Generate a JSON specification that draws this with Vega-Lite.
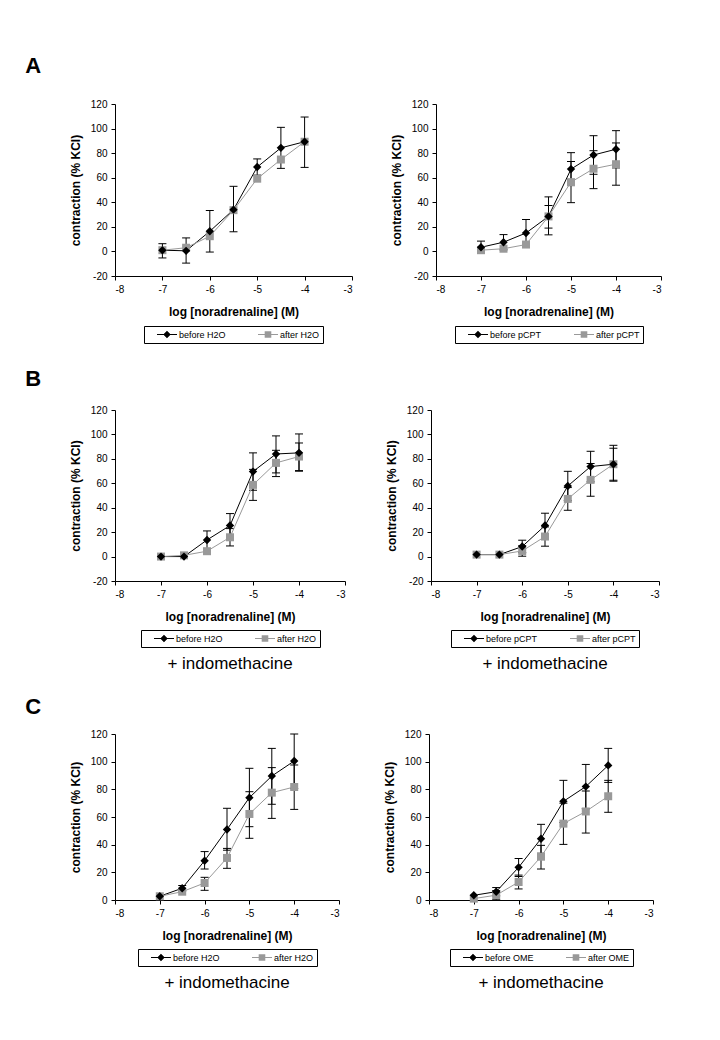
{
  "$schema": "https://vega.github.io/schema/vega-lite/v6.json",
  "background": "white",
  "padding": {"left": 25, "top": 55, "right": 5, "bottom": 5},
  "config": {
    "font": "Liberation Sans",
    "view": {"stroke": null},
    "axis": {"grid": false, "domainColor": "black", "tickColor": "black", "labelColor": "black", "titleColor": "black", "labelFontSize": 10, "titleFontSize": 12, "titleFontWeight": "bold", "tickSize": 4, "labelPadding": 4, "domainWidth": 1, "titlePadding": 8, "labelOverlap": false},
    "axisX": {"titlePadding": 12},
    "legend": {"orient": "bottom", "direction": "horizontal", "strokeColor": "black", "fillColor": "white", "padding": 3, "labelFontSize": 9, "labelColor": "black", "symbolSize": 900, "clipHeight": 11, "symbolStrokeWidth": 0, "columnPadding": 22, "offset": 8, "labelOffset": 2, "symbolOpacity": 1, "layout": {"bottom": {"anchor": "middle"}}}
  },
  "datasets": {
    "d": [
      {"p":"A1","g":"before","x":-7,"y":1,"lo":null,"hi":null},
      {"p":"A1","g":"before","x":-6.5,"y":0.5,"lo":-9.5,"hi":11},
      {"p":"A1","g":"before","x":-6,"y":16.4,"lo":-0.5,"hi":33.3},
      {"p":"A1","g":"before","x":-5.5,"y":34,"lo":16,"hi":53},
      {"p":"A1","g":"before","x":-5,"y":68.7,"lo":62.1,"hi":75.3},
      {"p":"A1","g":"before","x":-4.5,"y":84.3,"lo":67.6,"hi":101},
      {"p":"A1","g":"before","x":-4,"y":89.3,"lo":68.4,"hi":109.4},
      {"p":"A1","g":"after","x":-7,"y":1,"lo":-5.3,"hi":6.3},
      {"p":"A1","g":"after","x":-6.5,"y":3,"lo":null,"hi":null},
      {"p":"A1","g":"after","x":-6,"y":12.4,"lo":null,"hi":null},
      {"p":"A1","g":"after","x":-5.5,"y":33.6,"lo":null,"hi":null},
      {"p":"A1","g":"after","x":-5,"y":59.2,"lo":null,"hi":null},
      {"p":"A1","g":"after","x":-4.5,"y":74.8,"lo":null,"hi":null},
      {"p":"A1","g":"after","x":-4,"y":89.3,"lo":null,"hi":null},

      {"p":"A2","g":"before","x":-7,"y":3.4,"lo":-1.6,"hi":8.4},
      {"p":"A2","g":"before","x":-6.5,"y":7.5,"lo":1.3,"hi":13.7},
      {"p":"A2","g":"before","x":-6,"y":15,"lo":4,"hi":26},
      {"p":"A2","g":"before","x":-5.5,"y":28.5,"lo":13.5,"hi":44.4},
      {"p":"A2","g":"before","x":-5,"y":67,"lo":53.6,"hi":80.4},
      {"p":"A2","g":"before","x":-4.5,"y":78.5,"lo":62.8,"hi":94.2},
      {"p":"A2","g":"before","x":-4,"y":83.2,"lo":68,"hi":98.3},
      {"p":"A2","g":"after","x":-7,"y":1,"lo":null,"hi":null},
      {"p":"A2","g":"after","x":-6.5,"y":2.2,"lo":null,"hi":null},
      {"p":"A2","g":"after","x":-6,"y":5.6,"lo":null,"hi":null},
      {"p":"A2","g":"after","x":-5.5,"y":28.5,"lo":19,"hi":37.4},
      {"p":"A2","g":"after","x":-5,"y":56.4,"lo":39.7,"hi":73.2},
      {"p":"A2","g":"after","x":-4.5,"y":67.3,"lo":51.1,"hi":82},
      {"p":"A2","g":"after","x":-4,"y":71,"lo":53.9,"hi":88.3},

      {"p":"B1","g":"before","x":-7,"y":0,"lo":null,"hi":null},
      {"p":"B1","g":"before","x":-6.5,"y":0,"lo":null,"hi":null},
      {"p":"B1","g":"before","x":-6,"y":13.6,"lo":6.2,"hi":21},
      {"p":"B1","g":"before","x":-5.5,"y":25.4,"lo":15.6,"hi":35.2},
      {"p":"B1","g":"before","x":-5,"y":69.6,"lo":54.3,"hi":84.9},
      {"p":"B1","g":"before","x":-4.5,"y":84,"lo":68.5,"hi":98.8},
      {"p":"B1","g":"before","x":-4,"y":84.9,"lo":69.9,"hi":100.4},
      {"p":"B1","g":"after","x":-7,"y":0,"lo":null,"hi":null},
      {"p":"B1","g":"after","x":-6.5,"y":1,"lo":null,"hi":null},
      {"p":"B1","g":"after","x":-6,"y":4.4,"lo":null,"hi":null},
      {"p":"B1","g":"after","x":-5.5,"y":15.8,"lo":8.7,"hi":22.9},
      {"p":"B1","g":"after","x":-5,"y":58.7,"lo":46,"hi":71.4},
      {"p":"B1","g":"after","x":-4.5,"y":76.7,"lo":65.5,"hi":87},
      {"p":"B1","g":"after","x":-4,"y":81.9,"lo":70.4,"hi":93},

      {"p":"B2","g":"before","x":-7,"y":1.6,"lo":null,"hi":null},
      {"p":"B2","g":"before","x":-6.5,"y":1.6,"lo":null,"hi":null},
      {"p":"B2","g":"before","x":-6,"y":8.2,"lo":3.2,"hi":13.4},
      {"p":"B2","g":"before","x":-5.5,"y":25.4,"lo":15.4,"hi":35.5},
      {"p":"B2","g":"before","x":-5,"y":57.8,"lo":45.8,"hi":69.8},
      {"p":"B2","g":"before","x":-4.5,"y":73.7,"lo":61.2,"hi":86.2},
      {"p":"B2","g":"before","x":-4,"y":75.6,"lo":62.5,"hi":88.7},
      {"p":"B2","g":"after","x":-7,"y":1.6,"lo":null,"hi":null},
      {"p":"B2","g":"after","x":-6.5,"y":1.6,"lo":null,"hi":null},
      {"p":"B2","g":"after","x":-6,"y":4.6,"lo":0.3,"hi":8.9},
      {"p":"B2","g":"after","x":-5.5,"y":16.4,"lo":8.5,"hi":24.3},
      {"p":"B2","g":"after","x":-5,"y":47.2,"lo":37.9,"hi":56.5},
      {"p":"B2","g":"after","x":-4.5,"y":62.8,"lo":49.4,"hi":76.2},
      {"p":"B2","g":"after","x":-4,"y":75.6,"lo":61.7,"hi":91.1},

      {"p":"C1","g":"before","x":-7,"y":2.7,"lo":null,"hi":null},
      {"p":"C1","g":"before","x":-6.5,"y":8.5,"lo":6.5,"hi":10.5},
      {"p":"C1","g":"before","x":-6,"y":28.4,"lo":22.4,"hi":35},
      {"p":"C1","g":"before","x":-5.5,"y":51,"lo":36,"hi":66.3},
      {"p":"C1","g":"before","x":-5,"y":74,"lo":53,"hi":95.2},
      {"p":"C1","g":"before","x":-4.5,"y":89.6,"lo":69.2,"hi":109.6},
      {"p":"C1","g":"before","x":-4,"y":100.5,"lo":80.5,"hi":120},
      {"p":"C1","g":"after","x":-7,"y":2.7,"lo":null,"hi":null},
      {"p":"C1","g":"after","x":-6.5,"y":6,"lo":null,"hi":null},
      {"p":"C1","g":"after","x":-6,"y":12.3,"lo":7,"hi":16.4},
      {"p":"C1","g":"after","x":-5.5,"y":30.4,"lo":22.9,"hi":37.3},
      {"p":"C1","g":"after","x":-5,"y":62.2,"lo":44.6,"hi":78.3},
      {"p":"C1","g":"after","x":-4.5,"y":77.6,"lo":59,"hi":95.7},
      {"p":"C1","g":"after","x":-4,"y":81.7,"lo":65.5,"hi":97.6},

      {"p":"C2","g":"before","x":-7,"y":3.4,"lo":null,"hi":null},
      {"p":"C2","g":"before","x":-6.5,"y":6,"lo":3,"hi":9},
      {"p":"C2","g":"before","x":-6,"y":23.6,"lo":17,"hi":30},
      {"p":"C2","g":"before","x":-5.5,"y":44.3,"lo":33.8,"hi":54.7},
      {"p":"C2","g":"before","x":-5,"y":71.3,"lo":56,"hi":86.5},
      {"p":"C2","g":"before","x":-4.5,"y":82,"lo":66,"hi":98},
      {"p":"C2","g":"before","x":-4,"y":97.3,"lo":85,"hi":109.6},
      {"p":"C2","g":"after","x":-7,"y":1,"lo":null,"hi":null},
      {"p":"C2","g":"after","x":-6.5,"y":3.5,"lo":0.2,"hi":6.8},
      {"p":"C2","g":"after","x":-6,"y":13,"lo":8,"hi":18},
      {"p":"C2","g":"after","x":-5.5,"y":31.3,"lo":22.4,"hi":39.5},
      {"p":"C2","g":"after","x":-5,"y":55.2,"lo":40.2,"hi":70},
      {"p":"C2","g":"after","x":-4.5,"y":64,"lo":48.4,"hi":78.8},
      {"p":"C2","g":"after","x":-4,"y":75,"lo":63.4,"hi":86.5}
    ]
  },
  "vconcat": [
    {
      "title": {"text": "A", "anchor": "start", "fontSize": 22, "fontWeight": "bold", "color": "black", "dx": -44, "offset": 21},
      "spacing": 37,
      "resolve": {"scale": {"x": "independent", "y": "independent", "color": "independent", "shape": "independent"}, "axis": {"x": "independent", "y": "independent"}, "legend": {"color": "independent", "shape": "independent"}},
      "hconcat": [
        {
          "width": 237, "height": 172,
          "data": {"name": "d"},
          "transform": [{"filter": "datum.p == 'A1'"}],
          "encoding": {"x": {"field": "x", "type": "quantitative", "scale": {"domain": [-8, -3], "nice": false, "zero": false}, "axis": {"values": [-8, -7, -6, -5, -4, -3], "labelExpr": "'' + datum.value"}, "title": "log [noradrenaline] (M)"}},
          "layer": [
            {"transform": [{"filter": "isValid(datum.lo)"}], "mark": {"type": "rule", "color": "black", "strokeWidth": 1}, "encoding": {"y": {"field": "lo", "type": "quantitative", "scale": {"domain": [-20, 120], "nice": false, "zero": false}, "axis": {"values": [-20, 0, 20, 40, 60, 80, 100, 120], "labelExpr": "'' + datum.value"}, "title": "contraction (% KCl)"}, "y2": {"field": "hi"}}},
            {"transform": [{"filter": "isValid(datum.lo)"}], "mark": {"type": "tick", "orient": "horizontal", "color": "black", "size": 8, "thickness": 1, "opacity": 1}, "encoding": {"y": {"field": "lo", "type": "quantitative", "scale": {"domain": [-20, 120], "nice": false, "zero": false}, "axis": {"values": [-20, 0, 20, 40, 60, 80, 100, 120], "labelExpr": "'' + datum.value"}, "title": "contraction (% KCl)"}}},
            {"transform": [{"filter": "isValid(datum.hi)"}], "mark": {"type": "tick", "orient": "horizontal", "color": "black", "size": 8, "thickness": 1, "opacity": 1}, "encoding": {"y": {"field": "hi", "type": "quantitative", "scale": {"domain": [-20, 120], "nice": false, "zero": false}, "axis": {"values": [-20, 0, 20, 40, 60, 80, 100, 120], "labelExpr": "'' + datum.value"}, "title": "contraction (% KCl)"}}},
            {"mark": {"type": "line", "strokeWidth": 1}, "encoding": {"y": {"field": "y", "type": "quantitative", "scale": {"domain": [-20, 120], "nice": false, "zero": false}, "axis": {"values": [-20, 0, 20, 40, 60, 80, 100, 120], "labelExpr": "'' + datum.value"}, "title": "contraction (% KCl)"}, "stroke": {"field": "g", "type": "nominal", "scale": {"domain": ["before", "after"], "range": ["#000000", "#999999"]}, "legend": null}}},
            {"transform": [{"filter": "datum.g == 'after'"}], "mark": {"type": "point", "shape": "square", "filled": true, "color": "#999999", "size": 64, "opacity": 1}, "encoding": {"y": {"field": "y", "type": "quantitative", "scale": {"domain": [-20, 120], "nice": false, "zero": false}, "axis": {"values": [-20, 0, 20, 40, 60, 80, 100, 120], "labelExpr": "'' + datum.value"}, "title": "contraction (% KCl)"}}},
            {"transform": [{"filter": "datum.g == 'before'"}], "mark": {"type": "point", "shape": "diamond", "filled": true, "color": "#000000", "size": 70, "opacity": 1}, "encoding": {"y": {"field": "y", "type": "quantitative", "scale": {"domain": [-20, 120], "nice": false, "zero": false}, "axis": {"values": [-20, 0, 20, 40, 60, 80, 100, 120], "labelExpr": "'' + datum.value"}, "title": "contraction (% KCl)"}}},
            {"transform": [{"filter": "datum.y > 1000"}], "mark": {"type": "point", "filled": true, "opacity": 1}, "encoding": {"y": {"field": "y", "type": "quantitative", "scale": {"domain": [-20, 120], "nice": false, "zero": false}, "axis": {"values": [-20, 0, 20, 40, 60, 80, 100, 120], "labelExpr": "'' + datum.value"}, "title": "contraction (% KCl)"}, "color": {"field": "g", "type": "nominal", "scale": {"domain": ["before", "after"], "range": ["#000000", "#999999"]}, "legend": {"title": null, "offset": 9, "labelExpr": "datum.label == 'before' ? 'before H2O' : 'after H2O'"}}, "shape": {"field": "g", "type": "nominal", "scale": {"domain": ["before", "after"], "range": ["M-0.333,-0.035H1V0.035H-0.333ZM0.333,-0.25L0.583,0L0.333,0.25L0.083,0Z", "M-0.333,-0.035H1V0.035H-0.333ZM0.113,-0.22H0.553V0.22H0.113Z"]}, "legend": {"title": null, "offset": 9, "labelExpr": "datum.label == 'before' ? 'before H2O' : 'after H2O'"}}}}
          ]
        },
        {
          "width": 225, "height": 172,
          "data": {"name": "d"},
          "transform": [{"filter": "datum.p == 'A2'"}],
          "encoding": {"x": {"field": "x", "type": "quantitative", "scale": {"domain": [-8, -3], "nice": false, "zero": false}, "axis": {"values": [-8, -7, -6, -5, -4, -3], "labelExpr": "'' + datum.value"}, "title": "log [noradrenaline] (M)"}},
          "layer": [
            {"transform": [{"filter": "isValid(datum.lo)"}], "mark": {"type": "rule", "color": "black", "strokeWidth": 1}, "encoding": {"y": {"field": "lo", "type": "quantitative", "scale": {"domain": [-20, 120], "nice": false, "zero": false}, "axis": {"values": [-20, 0, 20, 40, 60, 80, 100, 120], "labelExpr": "'' + datum.value"}, "title": "contraction (% KCl)"}, "y2": {"field": "hi"}}},
            {"transform": [{"filter": "isValid(datum.lo)"}], "mark": {"type": "tick", "orient": "horizontal", "color": "black", "size": 8, "thickness": 1, "opacity": 1}, "encoding": {"y": {"field": "lo", "type": "quantitative", "scale": {"domain": [-20, 120], "nice": false, "zero": false}, "axis": {"values": [-20, 0, 20, 40, 60, 80, 100, 120], "labelExpr": "'' + datum.value"}, "title": "contraction (% KCl)"}}},
            {"transform": [{"filter": "isValid(datum.hi)"}], "mark": {"type": "tick", "orient": "horizontal", "color": "black", "size": 8, "thickness": 1, "opacity": 1}, "encoding": {"y": {"field": "hi", "type": "quantitative", "scale": {"domain": [-20, 120], "nice": false, "zero": false}, "axis": {"values": [-20, 0, 20, 40, 60, 80, 100, 120], "labelExpr": "'' + datum.value"}, "title": "contraction (% KCl)"}}},
            {"mark": {"type": "line", "strokeWidth": 1}, "encoding": {"y": {"field": "y", "type": "quantitative", "scale": {"domain": [-20, 120], "nice": false, "zero": false}, "axis": {"values": [-20, 0, 20, 40, 60, 80, 100, 120], "labelExpr": "'' + datum.value"}, "title": "contraction (% KCl)"}, "stroke": {"field": "g", "type": "nominal", "scale": {"domain": ["before", "after"], "range": ["#000000", "#999999"]}, "legend": null}}},
            {"transform": [{"filter": "datum.g == 'after'"}], "mark": {"type": "point", "shape": "square", "filled": true, "color": "#999999", "size": 64, "opacity": 1}, "encoding": {"y": {"field": "y", "type": "quantitative", "scale": {"domain": [-20, 120], "nice": false, "zero": false}, "axis": {"values": [-20, 0, 20, 40, 60, 80, 100, 120], "labelExpr": "'' + datum.value"}, "title": "contraction (% KCl)"}}},
            {"transform": [{"filter": "datum.g == 'before'"}], "mark": {"type": "point", "shape": "diamond", "filled": true, "color": "#000000", "size": 70, "opacity": 1}, "encoding": {"y": {"field": "y", "type": "quantitative", "scale": {"domain": [-20, 120], "nice": false, "zero": false}, "axis": {"values": [-20, 0, 20, 40, 60, 80, 100, 120], "labelExpr": "'' + datum.value"}, "title": "contraction (% KCl)"}}},
            {"transform": [{"filter": "datum.y > 1000"}], "mark": {"type": "point", "filled": true, "opacity": 1}, "encoding": {"y": {"field": "y", "type": "quantitative", "scale": {"domain": [-20, 120], "nice": false, "zero": false}, "axis": {"values": [-20, 0, 20, 40, 60, 80, 100, 120], "labelExpr": "'' + datum.value"}, "title": "contraction (% KCl)"}, "color": {"field": "g", "type": "nominal", "scale": {"domain": ["before", "after"], "range": ["#000000", "#999999"]}, "legend": {"title": null, "offset": 9, "labelExpr": "datum.label == 'before' ? 'before pCPT' : 'after pCPT'"}}, "shape": {"field": "g", "type": "nominal", "scale": {"domain": ["before", "after"], "range": ["M-0.333,-0.035H1V0.035H-0.333ZM0.333,-0.25L0.583,0L0.333,0.25L0.083,0Z", "M-0.333,-0.035H1V0.035H-0.333ZM0.113,-0.22H0.553V0.22H0.113Z"]}, "legend": {"title": null, "offset": 9, "labelExpr": "datum.label == 'before' ? 'before pCPT' : 'after pCPT'"}}}}
          ]
        }
      ]
    },
    {
      "title": {"text": "B", "anchor": "start", "fontSize": 22, "fontWeight": "bold", "color": "black", "dx": -44, "offset": 14},
      "spacing": 39,
      "resolve": {"scale": {"x": "independent", "y": "independent", "color": "independent", "shape": "independent"}, "axis": {"x": "independent", "y": "independent"}, "legend": {"color": "independent", "shape": "independent"}},
      "hconcat": [
        {
          "width": 230, "height": 171,
          "title": {"text": "+ indomethacine", "orient": "bottom", "fontSize": 17, "fontWeight": "normal", "color": "black", "anchor": "middle", "offset": 8},
          "data": {"name": "d"},
          "transform": [{"filter": "datum.p == 'B1'"}],
          "encoding": {"x": {"field": "x", "type": "quantitative", "scale": {"domain": [-8, -3], "nice": false, "zero": false}, "axis": {"values": [-8, -7, -6, -5, -4, -3], "labelExpr": "'' + datum.value"}, "title": "log [noradrenaline] (M)"}},
          "layer": [
            {"transform": [{"filter": "isValid(datum.lo)"}], "mark": {"type": "rule", "color": "black", "strokeWidth": 1}, "encoding": {"y": {"field": "lo", "type": "quantitative", "scale": {"domain": [-20, 120], "nice": false, "zero": false}, "axis": {"values": [-20, 0, 20, 40, 60, 80, 100, 120], "labelExpr": "'' + datum.value"}, "title": "contraction (% KCl)"}, "y2": {"field": "hi"}}},
            {"transform": [{"filter": "isValid(datum.lo)"}], "mark": {"type": "tick", "orient": "horizontal", "color": "black", "size": 8, "thickness": 1, "opacity": 1}, "encoding": {"y": {"field": "lo", "type": "quantitative", "scale": {"domain": [-20, 120], "nice": false, "zero": false}, "axis": {"values": [-20, 0, 20, 40, 60, 80, 100, 120], "labelExpr": "'' + datum.value"}, "title": "contraction (% KCl)"}}},
            {"transform": [{"filter": "isValid(datum.hi)"}], "mark": {"type": "tick", "orient": "horizontal", "color": "black", "size": 8, "thickness": 1, "opacity": 1}, "encoding": {"y": {"field": "hi", "type": "quantitative", "scale": {"domain": [-20, 120], "nice": false, "zero": false}, "axis": {"values": [-20, 0, 20, 40, 60, 80, 100, 120], "labelExpr": "'' + datum.value"}, "title": "contraction (% KCl)"}}},
            {"mark": {"type": "line", "strokeWidth": 1}, "encoding": {"y": {"field": "y", "type": "quantitative", "scale": {"domain": [-20, 120], "nice": false, "zero": false}, "axis": {"values": [-20, 0, 20, 40, 60, 80, 100, 120], "labelExpr": "'' + datum.value"}, "title": "contraction (% KCl)"}, "stroke": {"field": "g", "type": "nominal", "scale": {"domain": ["before", "after"], "range": ["#000000", "#999999"]}, "legend": null}}},
            {"transform": [{"filter": "datum.g == 'after'"}], "mark": {"type": "point", "shape": "square", "filled": true, "color": "#999999", "size": 64, "opacity": 1}, "encoding": {"y": {"field": "y", "type": "quantitative", "scale": {"domain": [-20, 120], "nice": false, "zero": false}, "axis": {"values": [-20, 0, 20, 40, 60, 80, 100, 120], "labelExpr": "'' + datum.value"}, "title": "contraction (% KCl)"}}},
            {"transform": [{"filter": "datum.g == 'before'"}], "mark": {"type": "point", "shape": "diamond", "filled": true, "color": "#000000", "size": 70, "opacity": 1}, "encoding": {"y": {"field": "y", "type": "quantitative", "scale": {"domain": [-20, 120], "nice": false, "zero": false}, "axis": {"values": [-20, 0, 20, 40, 60, 80, 100, 120], "labelExpr": "'' + datum.value"}, "title": "contraction (% KCl)"}}},
            {"transform": [{"filter": "datum.y > 1000"}], "mark": {"type": "point", "filled": true, "opacity": 1}, "encoding": {"y": {"field": "y", "type": "quantitative", "scale": {"domain": [-20, 120], "nice": false, "zero": false}, "axis": {"values": [-20, 0, 20, 40, 60, 80, 100, 120], "labelExpr": "'' + datum.value"}, "title": "contraction (% KCl)"}, "color": {"field": "g", "type": "nominal", "scale": {"domain": ["before", "after"], "range": ["#000000", "#999999"]}, "legend": {"title": null, "labelExpr": "datum.label == 'before' ? 'before H2O' : 'after H2O'"}}, "shape": {"field": "g", "type": "nominal", "scale": {"domain": ["before", "after"], "range": ["M-0.333,-0.035H1V0.035H-0.333ZM0.333,-0.25L0.583,0L0.333,0.25L0.083,0Z", "M-0.333,-0.035H1V0.035H-0.333ZM0.113,-0.22H0.553V0.22H0.113Z"]}, "legend": {"title": null, "labelExpr": "datum.label == 'before' ? 'before H2O' : 'after H2O'"}}}}
          ]
        },
        {
          "width": 228, "height": 171,
          "title": {"text": "+ indomethacine", "orient": "bottom", "fontSize": 17, "fontWeight": "normal", "color": "black", "anchor": "middle", "offset": 8},
          "data": {"name": "d"},
          "transform": [{"filter": "datum.p == 'B2'"}],
          "encoding": {"x": {"field": "x", "type": "quantitative", "scale": {"domain": [-8, -3], "nice": false, "zero": false}, "axis": {"values": [-8, -7, -6, -5, -4, -3], "labelExpr": "'' + datum.value"}, "title": "log [noradrenaline] (M)"}},
          "layer": [
            {"transform": [{"filter": "isValid(datum.lo)"}], "mark": {"type": "rule", "color": "black", "strokeWidth": 1}, "encoding": {"y": {"field": "lo", "type": "quantitative", "scale": {"domain": [-20, 120], "nice": false, "zero": false}, "axis": {"values": [-20, 0, 20, 40, 60, 80, 100, 120], "labelExpr": "'' + datum.value"}, "title": "contraction (% KCl)"}, "y2": {"field": "hi"}}},
            {"transform": [{"filter": "isValid(datum.lo)"}], "mark": {"type": "tick", "orient": "horizontal", "color": "black", "size": 8, "thickness": 1, "opacity": 1}, "encoding": {"y": {"field": "lo", "type": "quantitative", "scale": {"domain": [-20, 120], "nice": false, "zero": false}, "axis": {"values": [-20, 0, 20, 40, 60, 80, 100, 120], "labelExpr": "'' + datum.value"}, "title": "contraction (% KCl)"}}},
            {"transform": [{"filter": "isValid(datum.hi)"}], "mark": {"type": "tick", "orient": "horizontal", "color": "black", "size": 8, "thickness": 1, "opacity": 1}, "encoding": {"y": {"field": "hi", "type": "quantitative", "scale": {"domain": [-20, 120], "nice": false, "zero": false}, "axis": {"values": [-20, 0, 20, 40, 60, 80, 100, 120], "labelExpr": "'' + datum.value"}, "title": "contraction (% KCl)"}}},
            {"mark": {"type": "line", "strokeWidth": 1}, "encoding": {"y": {"field": "y", "type": "quantitative", "scale": {"domain": [-20, 120], "nice": false, "zero": false}, "axis": {"values": [-20, 0, 20, 40, 60, 80, 100, 120], "labelExpr": "'' + datum.value"}, "title": "contraction (% KCl)"}, "stroke": {"field": "g", "type": "nominal", "scale": {"domain": ["before", "after"], "range": ["#000000", "#999999"]}, "legend": null}}},
            {"transform": [{"filter": "datum.g == 'after'"}], "mark": {"type": "point", "shape": "square", "filled": true, "color": "#999999", "size": 64, "opacity": 1}, "encoding": {"y": {"field": "y", "type": "quantitative", "scale": {"domain": [-20, 120], "nice": false, "zero": false}, "axis": {"values": [-20, 0, 20, 40, 60, 80, 100, 120], "labelExpr": "'' + datum.value"}, "title": "contraction (% KCl)"}}},
            {"transform": [{"filter": "datum.g == 'before'"}], "mark": {"type": "point", "shape": "diamond", "filled": true, "color": "#000000", "size": 70, "opacity": 1}, "encoding": {"y": {"field": "y", "type": "quantitative", "scale": {"domain": [-20, 120], "nice": false, "zero": false}, "axis": {"values": [-20, 0, 20, 40, 60, 80, 100, 120], "labelExpr": "'' + datum.value"}, "title": "contraction (% KCl)"}}},
            {"transform": [{"filter": "datum.y > 1000"}], "mark": {"type": "point", "filled": true, "opacity": 1}, "encoding": {"y": {"field": "y", "type": "quantitative", "scale": {"domain": [-20, 120], "nice": false, "zero": false}, "axis": {"values": [-20, 0, 20, 40, 60, 80, 100, 120], "labelExpr": "'' + datum.value"}, "title": "contraction (% KCl)"}, "color": {"field": "g", "type": "nominal", "scale": {"domain": ["before", "after"], "range": ["#000000", "#999999"]}, "legend": {"title": null, "labelExpr": "datum.label == 'before' ? 'before pCPT' : 'after pCPT'"}}, "shape": {"field": "g", "type": "nominal", "scale": {"domain": ["before", "after"], "range": ["M-0.333,-0.035H1V0.035H-0.333ZM0.333,-0.25L0.583,0L0.333,0.25L0.083,0Z", "M-0.333,-0.035H1V0.035H-0.333ZM0.113,-0.22H0.553V0.22H0.113Z"]}, "legend": {"title": null, "labelExpr": "datum.label == 'before' ? 'before pCPT' : 'after pCPT'"}}}}
          ]
        }
      ]
    },
    {
      "title": {"text": "C", "anchor": "start", "fontSize": 22, "fontWeight": "bold", "color": "black", "dx": -44, "offset": 10},
      "spacing": 43,
      "resolve": {"scale": {"x": "independent", "y": "independent", "color": "independent", "shape": "independent"}, "axis": {"x": "independent", "y": "independent"}, "legend": {"color": "independent", "shape": "independent"}},
      "hconcat": [
        {
          "width": 224, "height": 166,
          "title": {"text": "+ indomethacine", "orient": "bottom", "fontSize": 17, "fontWeight": "normal", "color": "black", "anchor": "middle", "offset": 8},
          "data": {"name": "d"},
          "transform": [{"filter": "datum.p == 'C1'"}],
          "encoding": {"x": {"field": "x", "type": "quantitative", "scale": {"domain": [-8, -3], "nice": false, "zero": false}, "axis": {"values": [-8, -7, -6, -5, -4, -3], "labelExpr": "'' + datum.value"}, "title": "log [noradrenaline] (M)"}},
          "layer": [
            {"transform": [{"filter": "isValid(datum.lo)"}], "mark": {"type": "rule", "color": "black", "strokeWidth": 1}, "encoding": {"y": {"field": "lo", "type": "quantitative", "scale": {"domain": [0, 120], "nice": false, "zero": false}, "axis": {"values": [0, 20, 40, 60, 80, 100, 120], "labelExpr": "'' + datum.value"}, "title": "contraction (% KCl)"}, "y2": {"field": "hi"}}},
            {"transform": [{"filter": "isValid(datum.lo)"}], "mark": {"type": "tick", "orient": "horizontal", "color": "black", "size": 8, "thickness": 1, "opacity": 1}, "encoding": {"y": {"field": "lo", "type": "quantitative", "scale": {"domain": [0, 120], "nice": false, "zero": false}, "axis": {"values": [0, 20, 40, 60, 80, 100, 120], "labelExpr": "'' + datum.value"}, "title": "contraction (% KCl)"}}},
            {"transform": [{"filter": "isValid(datum.hi)"}], "mark": {"type": "tick", "orient": "horizontal", "color": "black", "size": 8, "thickness": 1, "opacity": 1}, "encoding": {"y": {"field": "hi", "type": "quantitative", "scale": {"domain": [0, 120], "nice": false, "zero": false}, "axis": {"values": [0, 20, 40, 60, 80, 100, 120], "labelExpr": "'' + datum.value"}, "title": "contraction (% KCl)"}}},
            {"mark": {"type": "line", "strokeWidth": 1}, "encoding": {"y": {"field": "y", "type": "quantitative", "scale": {"domain": [0, 120], "nice": false, "zero": false}, "axis": {"values": [0, 20, 40, 60, 80, 100, 120], "labelExpr": "'' + datum.value"}, "title": "contraction (% KCl)"}, "stroke": {"field": "g", "type": "nominal", "scale": {"domain": ["before", "after"], "range": ["#000000", "#999999"]}, "legend": null}}},
            {"transform": [{"filter": "datum.g == 'after'"}], "mark": {"type": "point", "shape": "square", "filled": true, "color": "#999999", "size": 64, "opacity": 1}, "encoding": {"y": {"field": "y", "type": "quantitative", "scale": {"domain": [0, 120], "nice": false, "zero": false}, "axis": {"values": [0, 20, 40, 60, 80, 100, 120], "labelExpr": "'' + datum.value"}, "title": "contraction (% KCl)"}}},
            {"transform": [{"filter": "datum.g == 'before'"}], "mark": {"type": "point", "shape": "diamond", "filled": true, "color": "#000000", "size": 70, "opacity": 1}, "encoding": {"y": {"field": "y", "type": "quantitative", "scale": {"domain": [0, 120], "nice": false, "zero": false}, "axis": {"values": [0, 20, 40, 60, 80, 100, 120], "labelExpr": "'' + datum.value"}, "title": "contraction (% KCl)"}}},
            {"transform": [{"filter": "datum.y > 1000"}], "mark": {"type": "point", "filled": true, "opacity": 1}, "encoding": {"y": {"field": "y", "type": "quantitative", "scale": {"domain": [0, 120], "nice": false, "zero": false}, "axis": {"values": [0, 20, 40, 60, 80, 100, 120], "labelExpr": "'' + datum.value"}, "title": "contraction (% KCl)"}, "color": {"field": "g", "type": "nominal", "scale": {"domain": ["before", "after"], "range": ["#000000", "#999999"]}, "legend": {"title": null, "offset": 8, "labelExpr": "datum.label == 'before' ? 'before H2O' : 'after H2O'"}}, "shape": {"field": "g", "type": "nominal", "scale": {"domain": ["before", "after"], "range": ["M-0.333,-0.035H1V0.035H-0.333ZM0.333,-0.25L0.583,0L0.333,0.25L0.083,0Z", "M-0.333,-0.035H1V0.035H-0.333ZM0.113,-0.22H0.553V0.22H0.113Z"]}, "legend": {"title": null, "offset": 8, "labelExpr": "datum.label == 'before' ? 'before H2O' : 'after H2O'"}}}}
          ]
        },
        {
          "width": 224, "height": 166,
          "title": {"text": "+ indomethacine", "orient": "bottom", "fontSize": 17, "fontWeight": "normal", "color": "black", "anchor": "middle", "offset": 8},
          "data": {"name": "d"},
          "transform": [{"filter": "datum.p == 'C2'"}],
          "encoding": {"x": {"field": "x", "type": "quantitative", "scale": {"domain": [-8, -3], "nice": false, "zero": false}, "axis": {"values": [-8, -7, -6, -5, -4, -3], "labelExpr": "'' + datum.value"}, "title": "log [noradrenaline] (M)"}},
          "layer": [
            {"transform": [{"filter": "isValid(datum.lo)"}], "mark": {"type": "rule", "color": "black", "strokeWidth": 1}, "encoding": {"y": {"field": "lo", "type": "quantitative", "scale": {"domain": [0, 120], "nice": false, "zero": false}, "axis": {"values": [0, 20, 40, 60, 80, 100, 120], "labelExpr": "'' + datum.value"}, "title": "contraction (% KCl)"}, "y2": {"field": "hi"}}},
            {"transform": [{"filter": "isValid(datum.lo)"}], "mark": {"type": "tick", "orient": "horizontal", "color": "black", "size": 8, "thickness": 1, "opacity": 1}, "encoding": {"y": {"field": "lo", "type": "quantitative", "scale": {"domain": [0, 120], "nice": false, "zero": false}, "axis": {"values": [0, 20, 40, 60, 80, 100, 120], "labelExpr": "'' + datum.value"}, "title": "contraction (% KCl)"}}},
            {"transform": [{"filter": "isValid(datum.hi)"}], "mark": {"type": "tick", "orient": "horizontal", "color": "black", "size": 8, "thickness": 1, "opacity": 1}, "encoding": {"y": {"field": "hi", "type": "quantitative", "scale": {"domain": [0, 120], "nice": false, "zero": false}, "axis": {"values": [0, 20, 40, 60, 80, 100, 120], "labelExpr": "'' + datum.value"}, "title": "contraction (% KCl)"}}},
            {"mark": {"type": "line", "strokeWidth": 1}, "encoding": {"y": {"field": "y", "type": "quantitative", "scale": {"domain": [0, 120], "nice": false, "zero": false}, "axis": {"values": [0, 20, 40, 60, 80, 100, 120], "labelExpr": "'' + datum.value"}, "title": "contraction (% KCl)"}, "stroke": {"field": "g", "type": "nominal", "scale": {"domain": ["before", "after"], "range": ["#000000", "#999999"]}, "legend": null}}},
            {"transform": [{"filter": "datum.g == 'after'"}], "mark": {"type": "point", "shape": "square", "filled": true, "color": "#999999", "size": 64, "opacity": 1}, "encoding": {"y": {"field": "y", "type": "quantitative", "scale": {"domain": [0, 120], "nice": false, "zero": false}, "axis": {"values": [0, 20, 40, 60, 80, 100, 120], "labelExpr": "'' + datum.value"}, "title": "contraction (% KCl)"}}},
            {"transform": [{"filter": "datum.g == 'before'"}], "mark": {"type": "point", "shape": "diamond", "filled": true, "color": "#000000", "size": 70, "opacity": 1}, "encoding": {"y": {"field": "y", "type": "quantitative", "scale": {"domain": [0, 120], "nice": false, "zero": false}, "axis": {"values": [0, 20, 40, 60, 80, 100, 120], "labelExpr": "'' + datum.value"}, "title": "contraction (% KCl)"}}},
            {"transform": [{"filter": "datum.y > 1000"}], "mark": {"type": "point", "filled": true, "opacity": 1}, "encoding": {"y": {"field": "y", "type": "quantitative", "scale": {"domain": [0, 120], "nice": false, "zero": false}, "axis": {"values": [0, 20, 40, 60, 80, 100, 120], "labelExpr": "'' + datum.value"}, "title": "contraction (% KCl)"}, "color": {"field": "g", "type": "nominal", "scale": {"domain": ["before", "after"], "range": ["#000000", "#999999"]}, "legend": {"title": null, "offset": 8, "labelExpr": "datum.label == 'before' ? 'before OME' : 'after OME'"}}, "shape": {"field": "g", "type": "nominal", "scale": {"domain": ["before", "after"], "range": ["M-0.333,-0.035H1V0.035H-0.333ZM0.333,-0.25L0.583,0L0.333,0.25L0.083,0Z", "M-0.333,-0.035H1V0.035H-0.333ZM0.113,-0.22H0.553V0.22H0.113Z"]}, "legend": {"title": null, "offset": 8, "labelExpr": "datum.label == 'before' ? 'before OME' : 'after OME'"}}}}
          ]
        }
      ]
    }
  ],
  "spacing": 24,
  "resolve": {"scale": {"x": "independent", "y": "independent", "color": "independent", "shape": "independent"}, "axis": {"x": "independent", "y": "independent"}, "legend": {"color": "independent", "shape": "independent"}}
}
